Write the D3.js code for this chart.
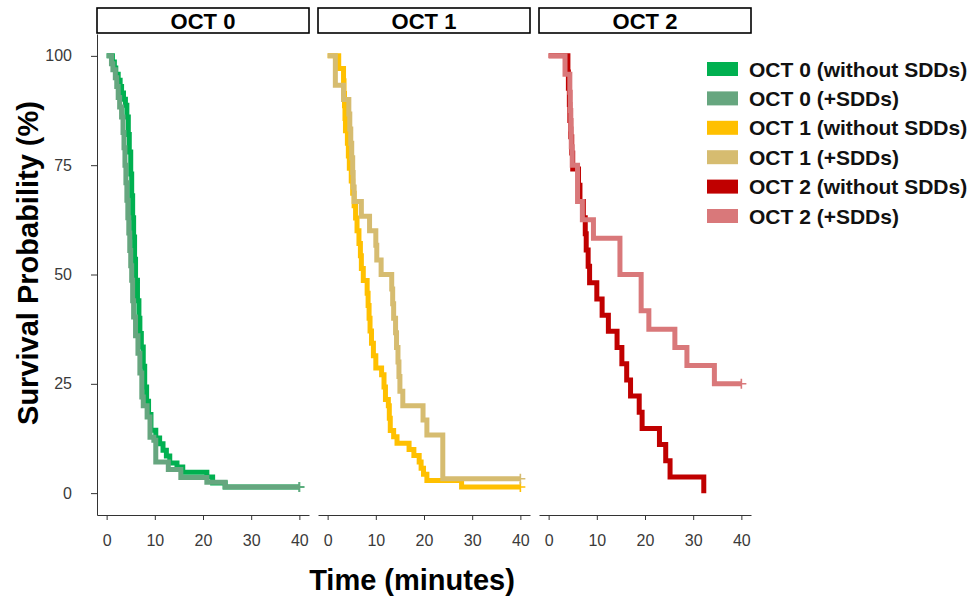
<!DOCTYPE html>
<html>
<head>
<meta charset="utf-8">
<script src="https://cdn.jsdelivr.net/npm/d3@7"></script>
<style>
  body { margin: 0; background: #fff; }
  text { font-family: "Liberation Sans", Arial, sans-serif; }
</style>
</head>
<body>
<svg id="chart" width="970" height="597"></svg>
<script>
"use strict";

// facet labels and legend entries
var panels = ["OCT 0", "OCT 1", "OCT 2"];
var legendLabels = ["OCT 0 (without SDDs)", "OCT 0 (+SDDs)", "OCT 1 (without SDDs)",
                    "OCT 1 (+SDDs)", "OCT 2 (without SDDs)", "OCT 2 (+SDDs)"];
var timeTicks = [0, 10, 20, 30, 40];
var survTicks = [0, 25, 50, 75, 100];

// Kaplan-Meier steps: [time (min), survival % after the drop]
var oct0Plain = [[0,100],[1.2,98.6],[1.6,97.2],[1.9,95.8],[2.4,94.4],[2.8,93.0],[3.1,91.5],[3.5,90.1],
  [3.9,88.7],[4.2,86.0],[4.5,82.0],[4.7,78.0],[5.0,73.0],[5.2,68.0],[5.4,63.0],[5.6,58.6],[5.8,53.5],
  [6.0,48.7],[6.4,44.0],[6.7,40.0],[6.9,36.5],[7.2,33.4],[7.6,29.0],[7.9,24.3],[8.3,21.0],[8.7,18.0],
  [9.2,14.4],[10.2,12.6],[11.0,11.3],[11.7,9.8],[12.4,8.5],[13.1,6.9],[14.6,6.0],[15.8,4.8],[20.8,3.7],
  [22.0,2.3],[24.6,1.4]];
var oct0Sdd = [[0,100],[1.0,98.2],[1.3,96.8],[1.8,95.0],[2.1,93.0],[2.4,90.5],[2.7,88.3],[3.1,86.0],
  [3.4,82.5],[3.6,79.0],[3.8,75.0],[4.0,71.0],[4.2,67.0],[4.4,63.0],[4.6,59.5],[4.8,55.5],[5.0,52.0],
  [5.2,48.7],[5.4,44.0],[5.6,40.3],[6.0,36.0],[6.5,32.0],[6.9,27.5],[7.3,22.0],[7.6,20.0],[8.4,17.4],
  [9.0,12.8],[9.8,12.1],[10.2,7.1],[12.8,5.4],[15.4,3.6],[20.8,2.5],[24.6,1.4]];
var oct1Plain = [[0,100],[2.3,97.1],[3.3,94.3],[3.4,91.4],[3.5,88.6],[3.6,85.7],[3.7,82.9],[4.1,80.0],
  [4.3,77.1],[4.5,74.3],[4.9,71.4],[5.2,68.6],[5.5,65.7],[5.8,62.9],[6.1,60.0],[6.5,57.1],[6.8,54.3],
  [7.0,51.4],[7.4,48.6],[8.2,45.7],[8.4,42.9],[8.6,40.0],[8.8,37.1],[9.1,34.3],[9.5,31.4],[10.0,28.6],
  [11.2,27.1],[11.7,24.3],[12.0,21.4],[12.6,20.0],[12.8,17.1],[13.0,14.3],[13.7,12.9],[14.4,11.4],
  [16.9,10.0],[17.9,8.6],[19.0,7.1],[19.4,5.7],[19.9,4.3],[20.6,2.9],[27.8,1.4]];
var oct1Sdd = [[0,100],[1.6,93.3],[3.3,90.0],[4.4,86.7],[4.6,83.3],[4.8,80.0],[5.0,76.7],[5.2,73.3],
  [5.3,70.0],[5.5,66.7],[7.0,63.3],[8.7,60.0],[10.0,56.7],[10.2,53.3],[11.1,50.0],[13.3,46.7],
  [13.5,43.3],[13.7,40.0],[14.1,36.7],[14.3,33.3],[14.6,30.0],[14.8,26.7],[15.0,23.3],[15.6,20.0],
  [19.8,16.7],[20.6,13.3],[23.9,3.3]];
var oct2Plain = [[0,100],[4.0,96.3],[4.1,92.6],[4.3,88.9],[4.4,85.2],[4.6,81.5],[4.8,77.8],[5.0,74.1],
  [6.2,70.4],[6.5,66.7],[7.2,63.0],[7.6,59.3],[7.8,55.6],[8.2,51.9],[8.5,48.1],[10.0,44.4],[11.1,40.7],
  [12.4,37.0],[14.2,33.3],[15.2,29.6],[16.2,25.9],[17.0,22.2],[18.8,18.5],[19.4,14.8],[23.0,11.1],
  [24.3,7.4],[25.2,3.7],[32.2,0]];
var oct2Sdd = [[0,100],[3.4,95.8],[4.4,91.7],[4.5,87.5],[4.6,83.3],[4.7,79.2],[4.9,75.0],[6.0,66.7],
  [7.0,62.5],[9.3,58.3],[14.8,50.0],[19.2,41.7],[20.8,37.5],[26.2,33.3],[28.7,29.2],[34.4,25.0]];
var followUpEnd = 40;

var colors = ["#00b050", "#66a67f", "#ffc000", "#d6bc70", "#c00000", "#d9787a"];

// which panel each curve belongs to, and whether it ends with a censor mark
var series = [
  {panel: 0, data: oct0Plain, color: colors[0], censored: true},
  {panel: 0, data: oct0Sdd,   color: colors[1], censored: true},
  {panel: 1, data: oct1Plain, color: colors[2], censored: true},
  {panel: 1, data: oct1Sdd,   color: colors[3], censored: true},
  {panel: 2, data: oct2Plain, color: colors[4], censored: false},
  {panel: 2, data: oct2Sdd,   color: colors[5], censored: true}
];

var svg = d3.select("#chart");
var plotTop = 34, plotBottom = 515,
    firstLeft = 97, panelW = 212, panelGap = 9;

var y = d3.scaleLinear().domain([-5, 105]).range([plotBottom, plotTop]);

panels.forEach(function(name, i){
  var left = firstLeft + i * (panelW + panelGap);
  var x = d3.scaleLinear().domain([-2, 42]).range([left, left + panelW]);
  var g = svg.append("g").attr("class", "panel");

  //strip
  g.append("rect")
    .attr("x", left).attr("y", 8)
    .attr("width", panelW).attr("height", 25)
    .attr("fill", "#fff").attr("stroke", "#000").attr("stroke-width", 1.6);
  g.append("text")
    .attr("x", left + panelW / 2).attr("y", 28.5)
    .attr("text-anchor", "middle")
    .style("font-size", "22px").style("font-weight", "bold")
    .text(name);

  //x axis
  var xAxis = g.append("g")
    .attr("transform", "translate(0," + plotBottom + ")")
    .call(d3.axisBottom(x).tickValues(timeTicks).tickSize(5).tickSizeOuter(0).tickPadding(15));
  xAxis.selectAll("path, line").attr("stroke", "#333");
  xAxis.selectAll("text").style("font-size", "16px").attr("fill", "#3a3a3a")
    .style("font-family", "'Liberation Sans', Arial, sans-serif");

  //y axis only on the first panel
  if(i === 0){
    var yAxis = g.append("g")
      .attr("transform", "translate(" + left + ",0)")
      .call(d3.axisLeft(y).tickValues(survTicks).tickSize(6).tickSizeOuter(0).tickPadding(19));
    yAxis.selectAll("path, line").attr("stroke", "#333");
    yAxis.selectAll("text").style("font-size", "16px").attr("fill", "#3a3a3a")
      .style("font-family", "'Liberation Sans', Arial, sans-serif");
  }

  var line = d3.line()
    .x(function(d){ return x(d[0]); })
    .y(function(d){ return y(d[1]); })
    .curve(d3.curveStepAfter);

  series.filter(function(s){ return s.panel === i; }).forEach(function(s){
    var pts = s.data.slice();
    var last = pts[pts.length - 1];
    if(s.censored) pts.push([followUpEnd, last[1]]);
    g.append("path")
      .attr("d", line(pts))
      .attr("fill", "none")
      .attr("stroke", s.color)
      .attr("stroke-width", 5)
      .attr("stroke-linejoin", "miter");
    if(s.censored){
      var cx = x(followUpEnd), cy = y(last[1]);
      g.append("path")
        .attr("d", "M" + (cx - 5) + "," + cy + "H" + (cx + 5) + "M" + cx + "," + (cy - 5) + "V" + (cy + 5))
        .attr("stroke", s.color).attr("stroke-width", 1.6).attr("fill", "none");
    }
  });
});

//axis titles
svg.append("text")
  .attr("transform", "translate(38,263) rotate(-90)")
  .attr("text-anchor", "middle")
  .style("font-size", "29px").style("font-weight", "bold")
  .text("Survival Probability (%)");
svg.append("text")
  .attr("x", 412).attr("y", 590)
  .attr("text-anchor", "middle")
  .style("font-size", "29px").style("font-weight", "bold")
  .text("Time (minutes)");

//legend
var legend = svg.append("g").attr("class", "legend");
var rows = legend.selectAll(".legRow")
  .data(legendLabels).enter()
  .append("g").attr("class", "legRow")
  .attr("transform", function(d, i){ return "translate(707," + (69 + i * 29.4) + ")"; });
rows.append("rect")
  .attr("x", 0).attr("y", -7)
  .attr("width", 31).attr("height", 14)
  .attr("fill", function(d, i){ return colors[i]; });
rows.append("text")
  .attr("x", 42).attr("y", 7.5)
  .style("font-size", "21px").style("font-weight", "bold")
  .attr("fill", "#111")
  .text(function(d){ return d; });
</script>
</body>
</html>
